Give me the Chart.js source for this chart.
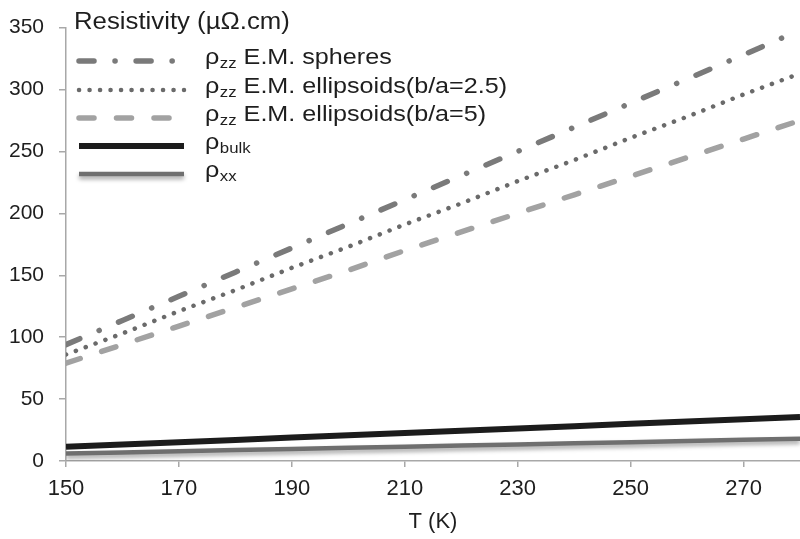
<!DOCTYPE html>
<html>
<head>
<meta charset="utf-8">
<script src="https://cdn.jsdelivr.net/npm/chart.js@4.4.1/dist/chart.umd.min.js"></script>
<style>
  html, body { margin: 0; padding: 0; background: #ffffff; overflow: hidden; }
  #wrap { width: 800px; height: 539px; }
</style>
</head>
<body>
<div id="wrap"><canvas id="c" width="800" height="539"></canvas></div>
<script>
// Temperature (K) and resistivity (µΩ.cm) curves
const temperatures = [150, 160, 170, 180, 190, 200, 210, 220, 230, 240, 250, 260, 270, 280];
const rhoSpheres     = [94, 113.5, 133, 152.5, 172, 191.5, 211, 230.5, 250, 269.5, 289, 308.5, 328, 348];
const rhoEllipsoid25 = [86, 103, 121, 138, 156, 173, 191, 208, 226, 243, 261, 278, 296, 313];
const rhoEllipsoid5  = [79, 94, 109, 124, 139, 154, 170, 185, 200, 215, 230, 245, 260, 275];
const rhoBulk        = [11.5, 13.3, 15.2, 17, 18.9, 20.7, 22.6, 24.4, 26.3, 28.1, 30, 31.8, 33.7, 35.5];
const rhoXX          = [6, 6.9, 7.8, 8.8, 9.7, 10.6, 11.5, 12.5, 13.4, 14.3, 15.2, 16.2, 17.1, 18];

const xTickValues = [150, 170, 190, 210, 230, 250, 270];
const yTickValues = [0, 50, 100, 150, 200, 250, 300, 350];

const yAxisTitle = 'Resistivity (µΩ.cm)';
const xAxisTitle = 'T (K)';

// Legend labels: symbol, subscript, remainder
const legendSymbol = ['ρ', 'ρ', 'ρ', 'ρ', 'ρ'];
const legendSub    = ['zz', 'zz', 'zz', 'bulk', 'xx'];
const legendRest   = [' E.M. spheres', ' E.M. ellipsoids(b/a=2.5)', ' E.M. ellipsoids(b/a=5)', '', ''];

const FONT = '"Liberation Sans", Arial, Helvetica, sans-serif';
const TEXT = '#1e1e1e';
const AXIS = '#a8a8a8';

function pts(ys) { return temperatures.map((t, i) => ({ x: t, y: ys[i] })); }

const datasets = [
  { data: pts(rhoSpheres), borderColor: '#7a7a7a', borderWidth: 5.5, borderDash: [15, 21, 0.1, 21], borderCapStyle: 'round' },
  { data: pts(rhoEllipsoid25), borderColor: '#6a6a6a', borderWidth: 4.5, borderDash: [0.1, 10.4], borderCapStyle: 'round' },
  { data: pts(rhoEllipsoid5), borderColor: '#a2a2a2', borderWidth: 5.5, borderDash: [15, 22.5], borderCapStyle: 'round' },
  { data: pts(rhoBulk), borderColor: '#1c1c1c', borderWidth: 6, borderDash: [], borderCapStyle: 'butt' },
  { data: pts(rhoXX), borderColor: '#6f6f6f', borderWidth: 4.5, borderDash: [], borderCapStyle: 'butt', shadow: true }
].map(d => Object.assign({ pointRadius: 0, pointHoverRadius: 0, fill: false, tension: 0 }, d));

// soft drop shadow under the ρxx curve
const shadowPlugin = {
  id: 'shadow',
  beforeDatasetDraw(chart, args) {
    if (!chart.data.datasets[args.index].shadow) return;
    const ctx = chart.ctx;
    ctx.save();
    ctx.shadowColor = 'rgba(0,0,0,0.35)';
    ctx.shadowBlur = 4;
    ctx.shadowOffsetY = 3;
  },
  afterDatasetDraw(chart, args) {
    if (!chart.data.datasets[args.index].shadow) return;
    chart.ctx.restore();
  }
};

function stretchedText(ctx, str, x, y, size, sx) {
  ctx.save();
  ctx.translate(x, y);
  ctx.scale(sx, 1);
  ctx.font = size + 'px ' + FONT;
  ctx.fillText(str, 0, 0);
  const w = ctx.measureText(str).width * sx;
  ctx.restore();
  return w;
}

// in-plot legend with subscripted labels and the resistivity unit heading
const legendPlugin = {
  id: 'richLegend',
  afterDraw(chart) {
    const ctx = chart.ctx;
    ctx.save();
    ctx.fillStyle = TEXT;
    ctx.textBaseline = 'alphabetic';
    ctx.textAlign = 'left';
    stretchedText(ctx, yAxisTitle, 74, 29, 23, 1.12);

    const rows = [61, 90, 118, 146, 174];
    const x0 = 79, x1 = 184, tx = 205;
    chart.data.datasets.forEach((ds, i) => {
      const y = rows[i];
      ctx.save();
      ctx.strokeStyle = ds.borderColor;
      ctx.lineWidth = ds.borderWidth;
      ctx.lineCap = ds.borderCapStyle;
      ctx.setLineDash(ds.borderDash);
      if (ds.shadow) {
        ctx.shadowColor = 'rgba(0,0,0,0.35)';
        ctx.shadowBlur = 4;
        ctx.shadowOffsetY = 3;
      }
      ctx.beginPath();
      ctx.moveTo(x0, y);
      ctx.lineTo(x1, y);
      ctx.stroke();
      ctx.restore();

      ctx.fillStyle = TEXT;
      let x = tx;
      const base = y + 3;
      x += stretchedText(ctx, legendSymbol[i], x, base, 21.5, 1.17);
      x += stretchedText(ctx, legendSub[i], x + 0.5, base + 4, 15, 1.12) + 0.5;
      if (legendRest[i]) stretchedText(ctx, legendRest[i], x, base, 21.5, 1.17);
    });
    ctx.restore();
  }
};

new Chart(document.getElementById('c'), {
  type: 'line',
  data: { datasets },
  plugins: [shadowPlugin, legendPlugin],
  options: {
    responsive: false,
    animation: false,
    devicePixelRatio: 1,
    layout: { padding: { top: 17, right: 0, left: 0, bottom: 0 } },
    plugins: { legend: { display: false }, tooltip: { enabled: false } },
    scales: {
      x: {
        type: 'linear',
        min: 150,
        max: 280,
        afterBuildTicks(scale) { scale.ticks = xTickValues.map(v => ({ value: v })); },
        afterFit(scale) { scale.height = 78; },
        border: { display: true, color: AXIS, width: 1.5 },
        grid: { display: true, drawOnChartArea: false, drawTicks: true, tickLength: 6, color: AXIS, lineWidth: 1.5 },
        ticks: { color: TEXT, font: { family: FONT, size: 22 }, padding: 9, maxRotation: 0, autoSkip: false },
        title: { display: true, text: xAxisTitle, color: TEXT, font: { family: FONT, size: 22 }, padding: { top: 0, bottom: 4 } }
      },
      y: {
        type: 'linear',
        min: 0,
        max: 350,
        afterBuildTicks(scale) { scale.ticks = yTickValues.map(v => ({ value: v })); },
        afterFit(scale) { scale.width = 66; },
        border: { display: true, color: AXIS, width: 1.5 },
        grid: { display: true, drawOnChartArea: false, drawTicks: true, tickLength: 7, color: AXIS, lineWidth: 1.5 },
        ticks: { color: TEXT, font: { family: FONT, size: 21 }, padding: 15, autoSkip: false }
      }
    }
  }
});
</script>
</body>
</html>
